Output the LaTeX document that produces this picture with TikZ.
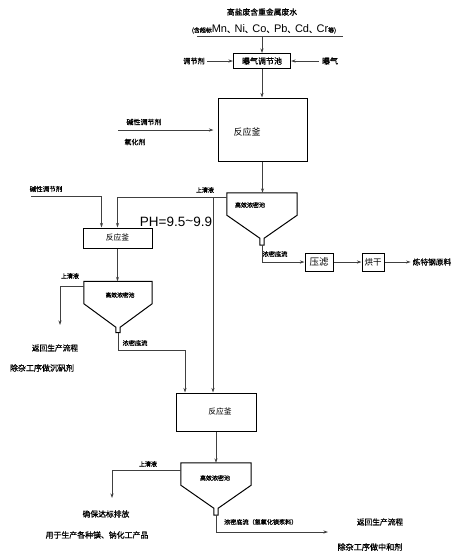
\documentclass[tikz,border=0pt]{standalone}
\usepackage{fontspec}
\setmainfont{Liberation Sans}
\newfontfamily\cjk[FakeBold=1.0]{Noto Sans CJK SC}
\newfontfamily\cjkr{Noto Sans CJK SC}
\usetikzlibrary{arrows.meta,calc}
\begin{document}
\begin{tikzpicture}[x=1pt,y=-1pt,
  line/.style={draw=black!75, line width=0.9pt},
  arr/.style={line,-{Stealth[length=4.5pt,width=3pt]}},
  box/.style={draw=black, line width=1pt, inner sep=0pt},
  lab/.style={inner sep=0pt, font=\cjk\fontsize{#1}{#1}\selectfont},
  lab/.default=7,
  rlab/.style={inner sep=0pt, font=\cjkr\fontsize{#1}{#1}\selectfont},
  rlab/.default=8,
  tank/.style={inner sep=0pt, minimum width=#1, minimum height=22pt},
]
\useasboundingbox (0,0) rectangle (455,555);
% title
\node[lab=7.8] (title) at (262,12) {高盐废含重金属废水};
\node[inner sep=0pt] (sub) at (264,29) {{\cjk\fontsize{6}{6}\selectfont (含超标}{\fontsize{11}{11}\selectfont Mn{\cjk\fontsize{7.5}{7.5}\selectfont 、}Ni{\cjk\fontsize{7.5}{7.5}\selectfont 、}Co{\cjk\fontsize{7.5}{7.5}\selectfont 、}Pb{\cjk\fontsize{7.5}{7.5}\selectfont 、}Cd{\cjk\fontsize{7.5}{7.5}\selectfont 、}Cr}{\cjk\fontsize{6}{6}\selectfont 等)}};
\coordinate (ulL) at (197,36);
\coordinate (ulR) at (343,36);
\coordinate (ul) at (262,36);
\draw[line] (ulL) -- (ulR);
% aeration tank
\node[box, minimum width=57pt, minimum height=15pt, font=\cjk\fontsize{8}{8}\selectfont] (aer) at (262,61) {曝气调节池};
\draw[arr] (ul) -- (aer.north);
\node[lab=7.2] (tj) at (194,61) {调节剂};
\draw[arr, shorten <=2pt] (tj.east) -- (aer.west|-tj);
\node[lab=8] (bq) at (330,61) {曝气};
\draw[arr, shorten <=3pt] (bq.west) -- (aer.east|-bq);
% reactor 1
\node[box, minimum width=89pt, minimum height=63pt] (r1) at (262.5,129.5) {};
\node[rlab=9] (r1lab) at (247,132) {反应釜};
\draw[arr] (aer.south) -- (aer.south|-r1.north);
\coordinate (a1) at (118,130);
\draw[arr, shorten >=4pt] (a1) -- (r1.west|-a1);
\node[lab=7] (jx1) at (144,122) {碱性调节剂};
\node[lab=7] (yh) at (135,142) {氧化剂};
% tank 2
\node[tank=70pt] (t2) at (262,204) {};
\draw[box] (t2.south west) -- (t2.north west) -- (t2.north east) -- (t2.south east)
  -- ($(t2.south)+(2.2,23)$) -- ($(t2.south)+(2.2,30)$) -- ($(t2.south)+(-2.2,30)$) -- ($(t2.south)+(-2.2,23)$) -- cycle;
\coordinate (n2) at ($(t2.south)+(0,30)$);
\node[lab=6] (t2lab) at (250,205) {高效浓密池};
\draw[arr] (r1.south) -- (r1.south|-t2.north);
% filter press and dryer
\node[box, minimum width=28pt, minimum height=18pt, font=\cjkr\fontsize{9.5}{9.5}\selectfont] (pl) at (319,262) {压滤};
\node[box, minimum width=22pt, minimum height=18pt, font=\cjkr\fontsize{8.5}{8.5}\selectfont] (hg) at (373,262) {烘干};
\node[lab=7.7] (prod) at (432,262) {炼特钢原料};
\draw[arr] (n2) |- (pl.west);
\draw[arr] (pl.east) -- (hg.west);
\draw[arr, shorten >=2pt] (hg.east) -- (prod.west);
\node[lab=6.2] (nd2) at (275,254) {浓密底流};
% supernatant from tank 2
\coordinate (s2) at (227,197);
\coordinate (b2) at (213,197);
\node[lab=6] (sq2) at (205,190) {上清液};
\node[inner sep=0pt, font=\fontsize{13.5}{13.5}\selectfont] (ph) at (176,222) {PH=9.5\raisebox{0.1ex}{\textasciitilde}9.9};
% reactor 2
\node[box, minimum width=69pt, minimum height=20pt, font=\cjkr\fontsize{7.8}{7.8}\selectfont] (r2) at (117.5,238) {反应釜};
\draw[arr] (s2) -| (r2.north);
\coordinate (c2) at (31,196);
\node[lab=6.5] (jx2) at (46,189) {碱性调节剂};
\draw[arr] (c2) -| ([xshift=-16pt]r2.north);
% tank 1
\node[tank=68pt] (t1) at (118,292.5) {};
\draw[box] (t1.south west) -- (t1.north west) -- (t1.north east) -- (t1.south east)
  -- ($(t1.south)+(2.2,23.5)$) -- ($(t1.south)+(2.2,29)$) -- ($(t1.south)+(-2.2,29)$) -- ($(t1.south)+(-2.2,23.5)$) -- cycle;
\coordinate (n1) at ($(t1.south)+(0,29)$);
\node[lab=5.8] (t1lab) at (120,295) {高效浓密池};
\draw[arr] (r2.south) -- (r2.south|-t1.north);
\coordinate (s1) at (84,286);
\coordinate (e1) at (60,325);
\draw[arr] (s1) -| (e1);
\node[lab=6] (sq1) at (70,276) {上清液};
\node[lab=7.7] (fh1) at (55,348) {返回生产流程};
\node[lab=8] (cz1) at (42,368) {除杂工序做沉矾剂};
\node[lab=6.2] (nd1) at (135,343) {浓密底流};
% reactor 3
\node[box, minimum width=80pt, minimum height=38pt] (r3) at (216,412) {};
\node[rlab=7.8] (r3lab) at (220,412) {反应釜};
\coordinate (k1) at (185,350);
\draw[arr] (n1) |- (k1) -- (k1|-r3.north);
\draw[arr] (b2) -- (b2|-r3.north);
% tank 3
\node[tank=70pt] (t3) at (216,474) {};
\draw[box] (t3.south west) -- (t3.north west) -- (t3.north east) -- (t3.south east)
  -- ($(t3.south)+(2.2,23)$) -- ($(t3.south)+(2.2,30)$) -- ($(t3.south)+(-2.2,30)$) -- ($(t3.south)+(-2.2,23)$) -- cycle;
\coordinate (n3) at ($(t3.south)+(0,30)$);
\node[lab=6] (t3lab) at (215,478) {高效浓密池};
\draw[arr] (r3.south) -- (r3.south|-t3.north);
\coordinate (s3) at (181,470);
\coordinate (e3) at (112,498);
\draw[arr] (s3) -| (e3);
\node[lab=6] (sq3) at (148,464) {上清液};
\node[lab=7.8] (qb) at (106,514) {确保达标排放};
\node[lab=7.9] (yy) at (97,535) {用于生产各种镁、钠化工产品};
\coordinate (e4) at (328,532);
\draw[arr] (n3) |- (e4);
\node[lab=6.1, anchor=west] (nd3) at (224,522) {浓密底流（氢氧化镁浆料）};
\node[lab=7.7] (fh3) at (380,522) {返回生产流程};
\node[lab=8.1] (cz3) at (370,547) {除杂工序做中和剂};
\end{tikzpicture}
\end{document}
